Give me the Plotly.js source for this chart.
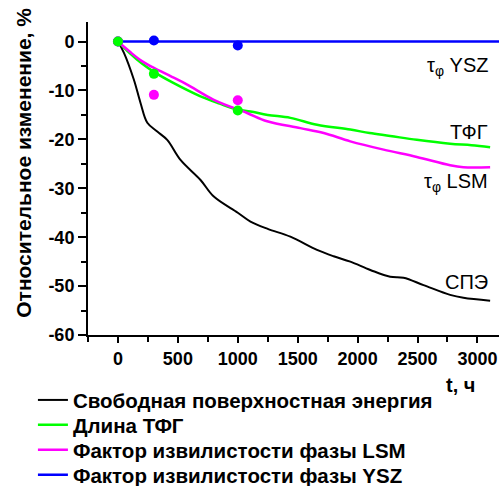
<!DOCTYPE html>
<html>
<head>
<meta charset="utf-8">
<script src="https://cdn.plot.ly/plotly-3.0.1.min.js"></script>
<style>html,body{margin:0;padding:0;background:#fff;}#chart{width:499px;height:486px;}</style>
</head>
<body>
<div id="chart"></div>
<script>
// Curves (t, hours ; relative change, %)
const speT   = [0, 50, 133, 189, 245, 328, 411, 522, 689, 800, 1000, 1106, 1250, 1439, 1661, 1800, 1939, 2106, 2272, 2383, 2550, 2772, 2883, 3106];
const speY   = [0, -2.3, -7.8, -12.6, -16.6, -18.4, -20.1, -24.2, -28.3, -31.7, -35.0, -36.8, -38.3, -39.9, -42.6, -43.9, -45.0, -46.7, -48.1, -48.3, -49.8, -51.8, -52.4, -53.0];
const tpbT   = [0, 100, 200, 300, 450, 689, 850, 995, 1106, 1250, 1439, 1661, 1939, 2100, 2272, 2494, 2772, 2950, 3106];
const tpbY   = [0, -2.4, -4.5, -6.2, -8.3, -11.2, -12.7, -13.9, -14.3, -15.0, -15.6, -17.0, -18.0, -18.7, -19.3, -20.1, -20.9, -21.2, -21.6];
const lsmT   = [0, 100, 200, 300, 450, 578, 800, 1078, 1245, 1522, 1717, 1939, 2217, 2494, 2772, 2883, 3106];
const lsmY   = [0, -2.1, -4.0, -5.4, -7.2, -8.8, -11.9, -14.6, -16.3, -17.7, -18.7, -20.4, -22.1, -23.6, -25.3, -25.7, -25.7];
const yszT   = [0, 3180];
const yszY   = [0, 0];
// Measured points
const ptT    = [0, 300, 1000];
const ptYsz  = [0, 0.2, -0.8];
const ptLsm  = [0, -10.9, -12.0];
const ptTpb  = [0, -6.6, -14.1];
// Labels
const legendNames = ['Свободная поверхностная энергия', 'Длина ТФГ', 'Фактор извилистости фазы LSM', 'Фактор извилистости фазы YSZ'];
const curveLabels = ['СПЭ', 'ТФГ', 'τ<sub>φ</sub> LSM', 'τ<sub>φ</sub> YSZ'];
const curveLabelY = [-49.1, -18.4, -28.9, -5.1];
const colors = ['#000000', '#00ff00', '#ff00ff', '#0000ff'];
const xTicks = [0, 500, 1000, 1500, 2000, 2500, 3000];
const yTicks = [0, -10, -20, -30, -40, -50, -60];

const fam = 'Arial, "Liberation Sans", sans-serif';
const legendIds = ['legend', 'legend2', 'legend3', 'legend4'];
const traces = [
  {x: speT, y: speY, mode: 'lines', name: legendNames[0], legend: legendIds[0], line: {color: colors[0], width: 2, shape: 'spline'}},
  {x: tpbT, y: tpbY, mode: 'lines', name: legendNames[1], legend: legendIds[1], line: {color: colors[1], width: 2.5, shape: 'spline'}},
  {x: lsmT, y: lsmY, mode: 'lines', name: legendNames[2], legend: legendIds[2], line: {color: colors[2], width: 2.5, shape: 'spline'}},
  {x: yszT, y: yszY, mode: 'lines', name: legendNames[3], legend: legendIds[3], line: {color: colors[3], width: 2.5}},
  {x: ptT, y: ptYsz, mode: 'markers', showlegend: false, marker: {color: colors[3], size: 10}},
  {x: ptT, y: ptLsm, mode: 'markers', showlegend: false, marker: {color: colors[2], size: 10}},
  {x: ptT, y: ptTpb, mode: 'markers', showlegend: false, marker: {color: colors[1], size: 10}}
];

const annFont = {family: fam, size: 20, color: '#000'};
const annotations = [
  {xref: 'paper', yref: 'paper', x: 0.907, y: -0.16, xanchor: 'center', yanchor: 'middle', text: 't, ч', showarrow: false, font: {family: fam, size: 20, color: '#000', weight: 'bold'}},
  {xref: 'paper', yref: 'paper', x: -0.156, y: 0.55, xanchor: 'center', yanchor: 'middle', textangle: -90, text: 'Относительное изменение, %', showarrow: false, font: {family: fam, size: 21, color: '#000', weight: 'bold'}}
];
curveLabels.forEach((t, i) => annotations.push({xref: 'x', yref: 'y', x: 3106, y: curveLabelY[i], xanchor: 'right', text: t, showarrow: false, font: annFont}));

const legendY = [-0.208, -0.287, -0.367, -0.447];
const layout = {
  width: 499, height: 486,
  margin: {l: 88, r: 0, t: 22, b: 151, autoexpand: false},
  paper_bgcolor: '#fff', plot_bgcolor: '#fff',
  showlegend: true,
  xaxis: {
    range: [-250, 3180], showgrid: false, zeroline: false, showline: true, linewidth: 2, linecolor: '#000',
    tickmode: 'array', tickvals: xTicks, ticktext: xTicks.map(String),
    ticks: 'outside', ticklen: 6, tickwidth: 2, tickcolor: '#000',
    minor: {dtick: 250, tick0: -250, ticks: 'outside', ticklen: 5, tickwidth: 2, tickcolor: '#000'},
    tickfont: {family: fam, size: 18, color: '#000', weight: 'bold'}
  },
  yaxis: {
    range: [-60, 4], showgrid: false, zeroline: false, showline: true, linewidth: 2, linecolor: '#000',
    tickmode: 'array', tickvals: yTicks, ticktext: yTicks.map(String),
    ticks: 'outside', ticklen: 8, tickwidth: 2, tickcolor: '#000',
    minor: {dtick: 5, tick0: 0, ticks: 'outside', ticklen: 5, tickwidth: 2, tickcolor: '#000'},
    tickfont: {family: fam, size: 18, color: '#000', weight: 'bold'}
  },
  annotations: annotations
};
legendIds.forEach((id, i) => {
  layout[id] = {x: -0.134, y: legendY[i], xanchor: 'left', yanchor: 'middle', font: {family: fam, size: 20.5, color: '#000', weight: 'bold'}, bgcolor: 'rgba(0,0,0,0)'};
});
Plotly.newPlot('chart', traces, layout, {displayModeBar: false, staticPlot: true});
</script>
</body>
</html>
